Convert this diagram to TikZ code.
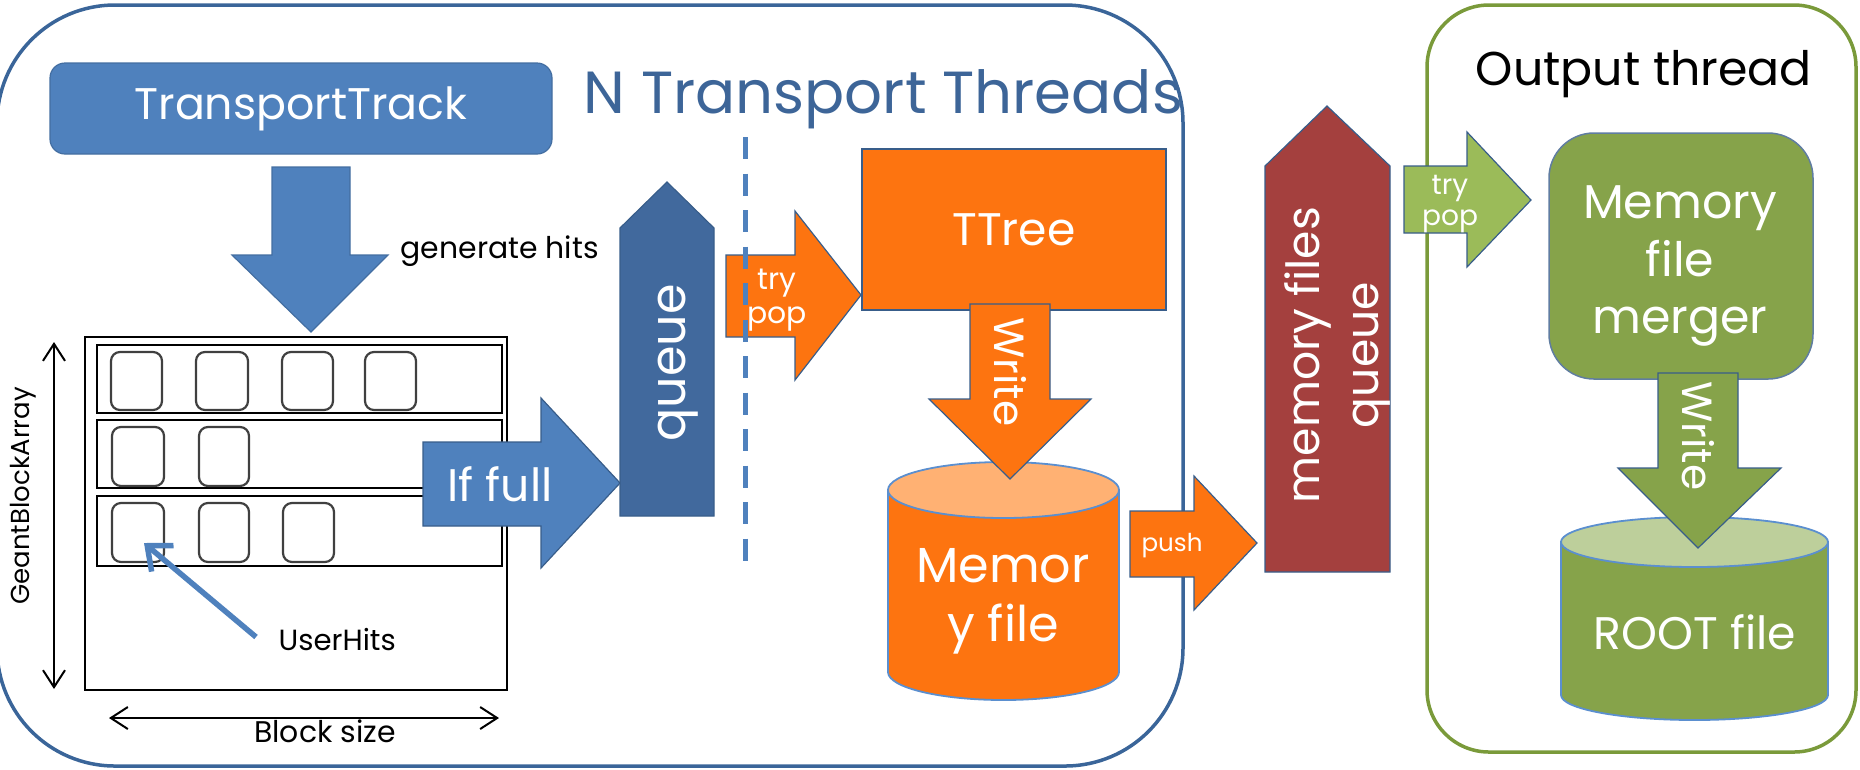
\documentclass[tikz,border=0pt]{standalone}
\usepackage{fontspec}
\setmainfont{Poppins}
\usetikzlibrary{arrows.meta}
\definecolor{tblue}{HTML}{4F81BD}
\definecolor{qblue}{HTML}{41699D}
\definecolor{frameblue}{HTML}{3A6599}
\definecolor{titleblue}{HTML}{3D6598}
\definecolor{torange}{HTML}{FD7410}
\definecolor{lorange}{HTML}{FFB173}
\definecolor{tred}{HTML}{A4403E}
\definecolor{lgreen}{HTML}{9BBB59}
\definecolor{dgreen}{HTML}{86A34A}
\definecolor{pgreen}{HTML}{BDCF9B}
\definecolor{framegreen}{HTML}{7A9A3A}
\definecolor{edgeblue}{HTML}{385D8A}
\definecolor{cylblue}{HTML}{5B8FCF}
\newcommand{\fsz}[2]{\fontsize{#1}{#2}\selectfont}
\begin{document}
\begin{tikzpicture}[x=0.1mm,y=-0.1mm,
  blockarrow/.style={draw=edgeblue,line width=0.12mm,line join=miter},
  wtext/.style={text=white,inner sep=0pt},
  rowbox/.style={draw=black,line width=0.28mm},
  hitbox/.style={draw=black!75,line width=0.22mm,rounded corners=0.9mm},
  dimarrow/.style={line width=0.2mm,{Straight Barb[length=1.7mm,width=2.2mm]}-{Straight Barb[length=1.7mm,width=2.2mm]}},
  cyl/.style={draw=cylblue,line width=0.18mm}]
\useasboundingbox (0,0) rectangle (1860,769);

% frames
\draw[frameblue,line width=0.35mm,rounded corners=11.8mm] (-3,5) rectangle (1183,766);
\draw[framegreen,line width=0.35mm,rounded corners=6.2mm] (1427,5) rectangle (1856,752);

% titles
\node[titleblue,font=\fsz{16.9}{20},anchor=base west,inner sep=0pt] (title) at (583,113) {N Transport Threads};
\node[black,font=\fsz{13.5}{16},anchor=base west,inner sep=0pt] (otitle) at (1475,85) {Output thread};

% TransportTrack
\node[fill=tblue,draw=tblue!85!black,line width=0.12mm,rounded corners=1.5mm,minimum width=50.2mm,minimum height=9.1mm,text=white,font=\fsz{12.6}{15}] (tt) at (301,108.5) {TransportTrack};

% generate hits arrow
\filldraw[fill=tblue,draw=tblue!85!black,line width=0.12mm] (272,167) -- (350,167) -- (350,255) -- (388,255) -- (311,332) -- (232,255) -- (272,255) -- cycle;
\node[font=\fsz{8.5}{10},anchor=base west,inner sep=0pt] (gh) at (400,258) {generate hits};

% block array
\draw[rowbox] (85,337) rectangle (507,690);
\draw[rowbox] (97,345) rectangle (502,413);
\draw[rowbox] (97,420) rectangle (502,488);
\draw[rowbox] (97,496) rectangle (502,566);
\draw[hitbox] (111,352) rectangle (162,410);
\draw[hitbox] (196,352) rectangle (248,410);
\draw[hitbox] (282,352) rectangle (333,410);
\draw[hitbox] (365,352) rectangle (416,410);
\draw[hitbox] (112,427) rectangle (164,486);
\draw[hitbox] (199,427) rectangle (249,486);
\draw[hitbox] (112,503) rectangle (164,562);
\draw[hitbox] (199,503) rectangle (249,562);
\draw[hitbox] (283,503) rectangle (334,562);

\coordinate (gbaT) at (54,342);
\coordinate (gbaB) at (54,689);
\draw[dimarrow] (gbaT) -- (gbaB);
\node[rotate=90,font=\fsz{7.4}{9},inner sep=0pt] (gba) at (23,496) {GeantBlockArray};
\coordinate (bsL) at (109,718);
\coordinate (bsR) at (499,718);
\draw[dimarrow] (bsL) -- (bsR);
\node[font=\fsz{8.5}{10},anchor=base,inner sep=0pt] (bs) at (325,742) {Block size};

\node[font=\fsz{8.3}{10},anchor=base west,inner sep=0pt] (uh) at (278,650) {UserHits};
\coordinate (uhS) at (256,637);
\coordinate (uhT) at (144,543);
\draw[tblue,line width=0.55mm,-{Straight Barb[length=2mm,width=3.4mm]}] (uhS) -- (uhT);

% If full arrow
\filldraw[fill=tblue,blockarrow] (423,442) -- (541,442) -- (541,398) -- (620,483) -- (541,568) -- (541,526) -- (423,526) -- cycle;
\node[wtext,font=\fsz{13}{15}] (iffull) at (500,484) {If full};

% queue
\filldraw[fill=qblue,blockarrow] (620,516) -- (620,228) -- (667,182) -- (714,228) -- (714,516) -- cycle;
\node[wtext,rotate=90,font=\fsz{14}{16}] (queue) at (678,363) {queue};

% try pop (orange)
\filldraw[fill=torange,blockarrow] (726,255) -- (795,255) -- (795,211) -- (861,295) -- (795,380) -- (795,337) -- (726,337) -- cycle;
\node[wtext,font=\fsz{8.5}{9.8},align=center] (trypop1) at (777,300) {try\\pop};

% dashed separator
\coordinate (dashT) at (745,137);
\coordinate (dashB) at (745,572);
\draw[tblue,line width=0.5mm,dash pattern=on 2.2mm off 1.45mm] (dashT) -- (dashB);

% TTree
\node[fill=torange,draw=edgeblue,line width=0.12mm,minimum width=30.4mm,minimum height=16.1mm,text=white,font=\fsz{13}{15}] (ttree) at (1014,229.5) {TTree};

% Memory file cylinder
\filldraw[fill=torange,cyl] (888,490) -- (888,672) arc[start angle=180,end angle=360,x radius=11.55mm,y radius=2.8mm] -- (1119,490) -- cycle;
\filldraw[fill=lorange,cyl] (1003.5,490) ellipse[x radius=11.55mm,y radius=2.8mm];
\node[wtext,font=\fsz{14}{16.8},align=center] (memfile) at (1003,601) {Memor\\y file};

% Write arrow (orange)
\filldraw[fill=torange,blockarrow] (970,304) -- (1050,304) -- (1050,399) -- (1091,399) -- (1010,479) -- (929,399) -- (970,399) -- cycle;
\node[wtext,rotate=-90,font=\fsz{12}{14}] (write1) at (1010,372) {Write};

% push arrow
\filldraw[fill=torange,blockarrow] (1130,511) -- (1194,511) -- (1194,476) -- (1257,543) -- (1194,610) -- (1194,577) -- (1130,577) -- cycle;
\node[wtext,font=\fsz{7}{8}] (push) at (1172,546) {push};

% memory files queue
\filldraw[fill=tred,blockarrow] (1265,572) -- (1265,166) -- (1327,106) -- (1390,166) -- (1390,572) -- cycle;
\node[wtext,rotate=90,align=center,font=\fsz{13}{16.8}] (mfq) at (1337,355) {memory files\\queue};

% try pop (green)
\filldraw[fill=lgreen,blockarrow] (1404,166) -- (1467,166) -- (1467,132) -- (1531,200) -- (1467,267) -- (1467,233) -- (1404,233) -- cycle;
\node[wtext,align=center,font=\fsz{8}{8.8}] (trypop2) at (1450,204) {try\\pop};

% merger
\node[fill=dgreen,draw=edgeblue!80,line width=0.15mm,rounded corners=4.5mm,minimum width=26.4mm,minimum height=24.6mm] (merger) at (1681,256) {};
\node[wtext,align=center,font=\fsz{13.5}{16.4}] (mergertxt) at (1680,266) {Memory\\file\\merger};

% ROOT file cylinder
\filldraw[fill=dgreen,cyl] (1561,542) -- (1561,695) arc[start angle=180,end angle=360,x radius=13.35mm,y radius=2.5mm] -- (1828,542) -- cycle;
\filldraw[fill=pgreen,cyl] (1694.5,542) ellipse[x radius=13.35mm,y radius=2.5mm];

% Write arrow (green)
\filldraw[fill=dgreen,blockarrow] (1658,373) -- (1738,373) -- (1738,468) -- (1781,468) -- (1698,548) -- (1618,468) -- (1658,468) -- cycle;
\node[wtext,rotate=-90,font=\fsz{12}{14}] (write2) at (1698,436) {Write};

\node[wtext,font=\fsz{13}{15}] (rootf) at (1695,632) {ROOT file};
\end{tikzpicture}
\end{document}
